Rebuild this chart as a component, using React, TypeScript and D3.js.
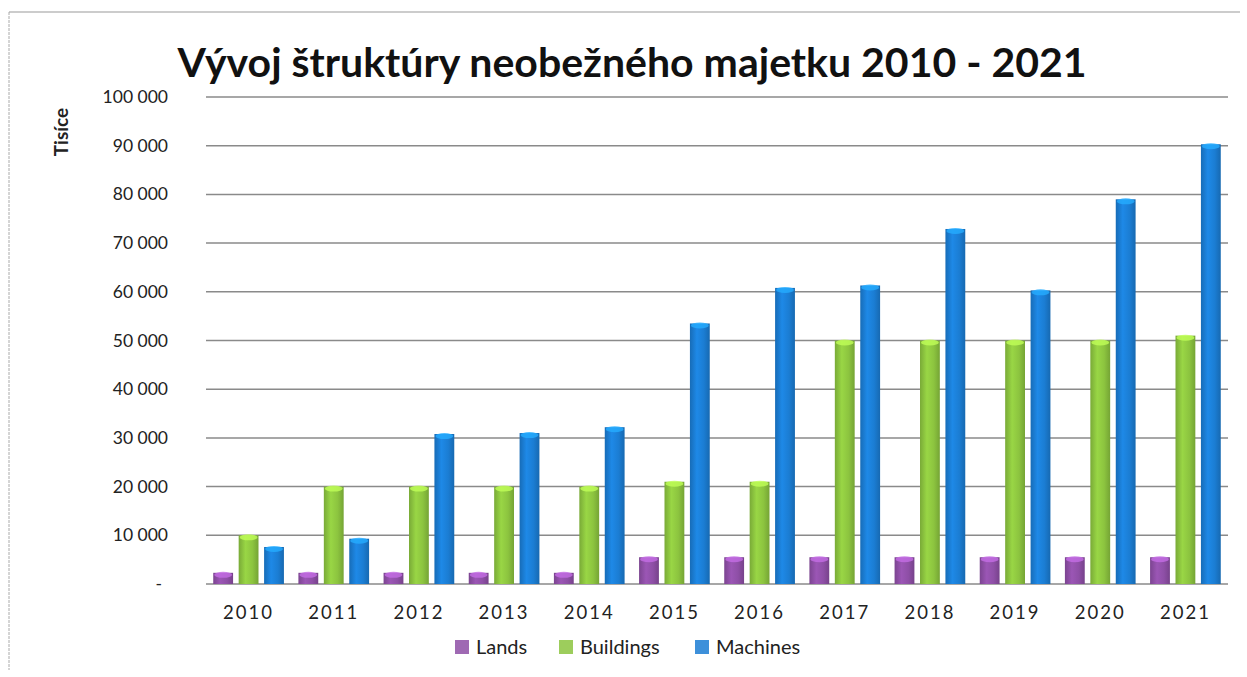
import React from 'react';
import * as d3 from 'd3';

const years = ['2010', '2011', '2012', '2013', '2014', '2015', '2016', '2017', '2018', '2019', '2020', '2021'];
const lands = [2300, 2300, 2300, 2300, 2300, 5500, 5500, 5500, 5500, 5500, 5500, 5500];
const buildings = [10000, 20000, 20000, 20000, 20000, 21000, 21000, 50000, 50000, 50000, 50000, 51000];
const machines = [7600, 9300, 30800, 31000, 32200, 53500, 60800, 61300, 72900, 60300, 79000, 90300];
const yTicks = [0, 10000, 20000, 30000, 40000, 50000, 60000, 70000, 80000, 90000, 100000];
const seriesNames = ['Lands', 'Buildings', 'Machines'];
const seriesColors = ['#8e4fa6', '#8cc43f', '#1b7dd3'];

const W = 1247;
const H = 677;
const margin = { top: 97, right: 19, bottom: 93, left: 206 };

const fmt = (v: number) => (v === 0 ? '-' : d3.format(',')(v).replace(/,/g, ' '));

export default function App() {
  const series = [lands, buildings, machines];

  const x = d3.scaleBand<string>()
    .domain(years)
    .range([margin.left, W - margin.right])
    .paddingInner(0.17)
    .paddingOuter(0.085);

  const inner = d3.scaleBand<string>()
    .domain(seriesNames)
    .range([0, x.bandwidth()])
    .paddingInner(0.22);

  const y = d3.scaleLinear()
    .domain([0, 100000])
    .range([H - margin.bottom, margin.top]);

  const font = 'Lato, "Open Sans", sans-serif';

  return (
    <svg width={W} height={H} style={{ position: 'absolute', left: 0, top: 0, background: '#fff' }}>
      <defs>
        {seriesColors.map((c, i) => (
          <linearGradient key={i} id={`cyl${i}`} x1="0" x2="1" y1="0" y2="0">
            <stop offset="0%" stopColor={d3.color(c)!.darker(0.4).toString()} />
            <stop offset="35%" stopColor={d3.color(c)!.brighter(0.25).toString()} />
            <stop offset="70%" stopColor={c} />
            <stop offset="100%" stopColor={d3.color(c)!.darker(0.5).toString()} />
          </linearGradient>
        ))}
      </defs>

      {/* frame */}
      <line x1={9} x2={1240} y1={12} y2={12} stroke="#999" strokeWidth={1} />
      <line x1={9} x2={9} y1={12} y2={670} stroke="#aaa" strokeWidth={1} strokeDasharray="3 1" />

      <text x={632} y={77} textAnchor="middle" fontFamily={font} fontWeight={700} fontSize={41} fill="#111">
        Vývoj štruktúry neobežného majetku 2010 - 2021
      </text>

      {/* gridlines + y labels */}
      {yTicks.map(t => (
        <g key={t}>
          <line x1={margin.left} x2={W - margin.right} y1={y(t)} y2={y(t)} stroke="#8a8a8a" strokeWidth={1.5} />
          <text x={t === 0 ? 162 : 168} y={y(t) + 6} textAnchor="end" fontFamily={font} fontSize={17.5} fill="#222">
            {fmt(t)}
          </text>
        </g>
      ))}

      <text transform="translate(68,132) rotate(-90)" textAnchor="middle" fontFamily={font} fontWeight={700} fontSize={19} fill="#222">
        Tisíce
      </text>

      {/* bars */}
      {years.map((yr, i) => (
        <g key={yr} transform={`translate(${x(yr)},0)`}>
          {series.map((s, k) => {
            const bx = inner(seriesNames[k])!;
            const bw = inner.bandwidth();
            const top = y(s[i]);
            const base = y(0);
            return (
              <g key={k}>
                <rect x={bx} y={top} width={bw} height={base - top} fill={`url(#cyl${k})`} />
                <ellipse cx={bx + bw / 2} cy={top + 2} rx={bw / 2 - 1} ry={3}
                  fill={d3.color(seriesColors[k])!.brighter(0.9).toString()} opacity={0.8} />
              </g>
            );
          })}
        </g>
      ))}

      {/* x labels */}
      {years.map(yr => (
        <text key={yr} x={x(yr)! + x.bandwidth() / 2} y={H - margin.bottom + 35} textAnchor="middle"
          fontFamily={font} fontSize={18.5} letterSpacing={2} fill="#222">
          {yr}
        </text>
      ))}

      {/* legend */}
      {seriesNames.map((n, k) => {
        const lx = [455, 559, 695][k];
        return (
          <g key={n} transform={`translate(${lx},640)`}>
            <rect x={0} y={0} width={14} height={14} fill={seriesColors[k]} opacity={0.85} />
            <text x={21} y={14} fontFamily={font} fontSize={20} fill="#222">{n}</text>
          </g>
        );
      })}
    </svg>
  );
}
